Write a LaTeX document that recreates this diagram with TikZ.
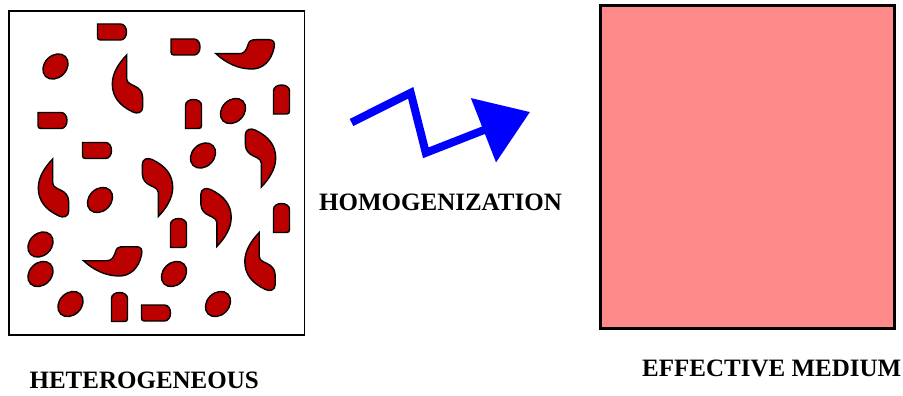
\documentclass[tikz,border=0pt]{standalone}
\usepackage{fontspec}
\setmainfont{Liberation Serif}
\usetikzlibrary{arrows.meta}
\definecolor{inclusion}{RGB}{187,0,0}
\definecolor{medium}{RGB}{255,138,138}

\begin{document}
\begin{tikzpicture}[
    x=1pt, y=-1pt,
    box/.style={draw, inner sep=0pt},
    blob/.style={draw=black, fill=inclusion, line width=1.4pt},
    lbl/.style={font=\bfseries\fontsize{25}{30}\selectfont, inner sep=0pt, anchor=base},
    pics/pill/.style={code={
        \draw[blob] (-15,-8) -- (8,-8) .. controls (16,-8) and (16,8) .. (8,8)
            -- (-9,8) .. controls (-15,8) .. (-15,2) -- cycle;
    }},
    pics/egg/.style={code={
        \draw[blob, rotate=45] (0,0) ellipse [x radius=14, y radius=11];
    }},
    pics/comma/.style={code={
        \draw[blob, shift={(-15.5,-29)}] (14.7,0) -- (14.7,24)
            .. controls (14.7,29) and (22,30) .. (26,33)
            .. controls (30,36) and (30.7,40) .. (30.7,45) -- (30.7,52)
            .. controls (30.7,58) and (25,59) .. (21,57)
            .. controls (8,51) and (0.3,42) .. (0.3,29)
            .. controls (0.3,18) and (7,8) .. (14.7,0) -- cycle;
    }},
    pics/bowl/.style={code={
        \draw[blob, shift={(-29,-15.5)}] (0,14.7) -- (23,14.7)
            .. controls (28,14.7) and (30,12) .. (32,6)
            .. controls (33,2) and (35,0.7) .. (40,0.7) -- (53,0.7)
            .. controls (58,0.7) and (59,4) .. (58,9)
            .. controls (55,23) and (46,30) .. (36,30)
            .. controls (22,30) and (10,24) .. (0,14.7) -- cycle;
    }},
]
\useasboundingbox (0,0) rectangle (903,396);

% Left box: heterogeneous material
\node[box, line width=1.5pt, minimum width=295.5pt, minimum height=324pt] (hetbox) at (156.8,172.9) {};

% Inclusions (pills, eggs, commas, bowls)
\foreach \px/\py in {112.5/32, 186/47, 53/120.5, 97.5/150.5, 156.5/313}
    \pic at (\px,\py) {pill};
\foreach \px/\py in {193.5/113.5, 281.5/99, 281.5/217.5, 178.5/232.5, 119.5/306.5}
    \pic[rotate=90] at (\px,\py) {pill};
\foreach \px/\py in {55.5/66.5, 233/111, 203/155.5, 100/200, 40.5/244.5, 40.5/274, 174/274, 70.5/304, 218/304}
    \pic at (\px,\py) {egg};
\foreach \px/\py in {127.5/84, 53.5/188, 260/261.5}
    \pic at (\px,\py) {comma};
\foreach \px/\py in {260.5/158, 157.5/187.5, 216/217.5}
    \pic[rotate=180] at (\px,\py) {comma};
\foreach \px/\py in {245/54.5, 112.5/261.5}
    \pic at (\px,\py) {bowl};

% Right box: effective medium
\node[box, line width=3pt, fill=medium, minimum width=294pt, minimum height=323pt] (effbox) at (747.5,167) {};

% Zigzag arrow between the boxes
\draw[blue, line width=8pt, -{Triangle[length=50pt, width=67pt]}]
    (351.5,122.5) -- (410.7,92.8) -- (425.8,152.8) -- (530,112);

% Labels
\node[lbl] (homlabel) at (440.5,210.7) {HOMOGENIZATION};
\node[lbl] (hetlabel) at (144.2,388.3) {HETEROGENEOUS};
\node[lbl] (efflabel) at (771.7,376.7) {EFFECTIVE MEDIUM};

\end{tikzpicture}
\end{document}
